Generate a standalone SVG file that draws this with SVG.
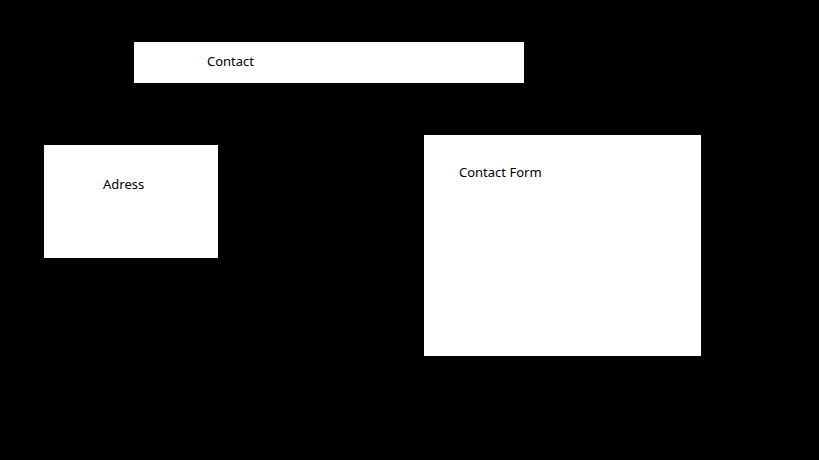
<svg xmlns="http://www.w3.org/2000/svg" width="819" height="460" viewBox="0 0 819 460">
<style>
.box{fill:#ffffff;stroke:none}
.lbl{font-family:"Noto Sans","Open Sans",sans-serif;font-size:13px;fill:#000000}
</style>
<rect x="0" y="0" width="819" height="460" fill="#000000"/>
<g id="contact">
<rect class="box" x="134" y="42" width="390" height="41"/>
<text class="lbl" x="207" y="66">Contact</text>
</g>
<g id="adress">
<rect class="box" x="44" y="145" width="174" height="113"/>
<text class="lbl" x="103" y="189">Adress</text>
</g>
<g id="contact-form">
<rect class="box" x="424" y="135" width="277" height="221"/>
<text class="lbl" x="459" y="177">Contact Form</text>
</g>
<g id="connectors"></g>
</svg>
